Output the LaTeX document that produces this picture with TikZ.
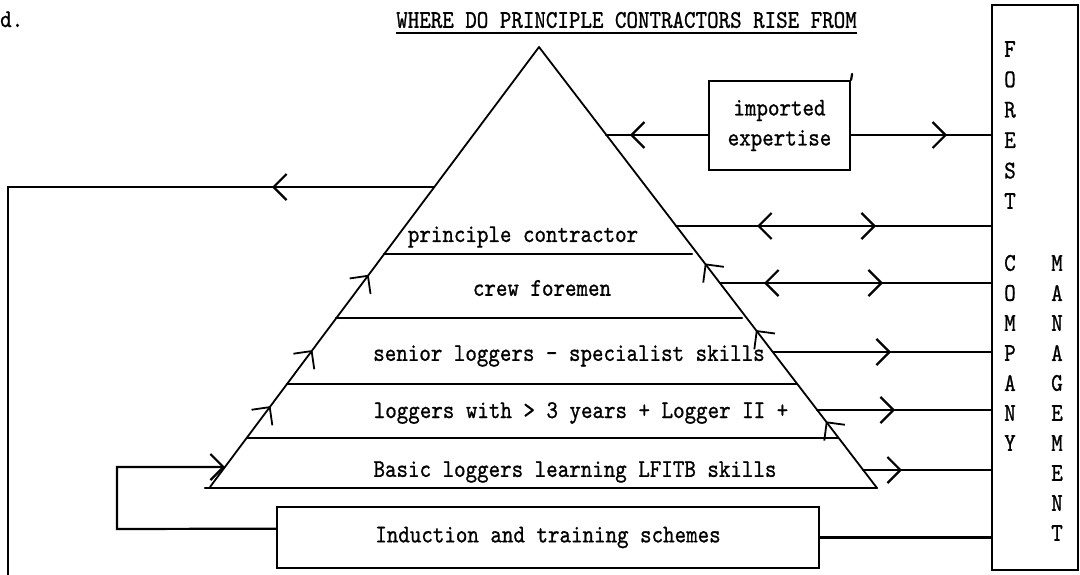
\documentclass[tikz,border=0pt]{standalone}
\usepackage{fontspec}
\newfontfamily\tw{lmmono10-regular.otf}[FakeStretch=0.86,FakeBold=0.9]
\usetikzlibrary{arrows.meta,decorations.markings,calc}

\tikzset{
  every node/.style={font=\tw\fontsize{25.5}{30}\selectfont, inner sep=0pt},
  ln/.style={line width=2.2pt, line cap=round},
  side/.style={line width=1.8pt, line cap=round},
  barb/.tip={Straight Barb[length=13pt,width=26pt]},
  mk/.style={postaction={decorate}, decoration={markings, #1}},
  boxed/.style={draw, line width=2.2pt},
}

\begin{document}
\begin{tikzpicture}[x=1pt,y=-1pt]
\useasboundingbox (0,0) rectangle (1080,574);

% heading
\node[anchor=base west] (dd) at (0,27) {d.};
\node (title) at (626.5,20) {WHERE DO PRINCIPLE CONTRACTORS RISE FROM};
\draw[line width=1.8pt] ($(title.base west)+(0,5)$) -- ($(title.base east)+(0,5)$);

% pyramid corners
\coordinate (apex) at (539,47);
\coordinate (bl) at (210,487);
\coordinate (bl0) at (205,488);
\coordinate (br) at (877,488);

% points on the left side
\coordinate (eL187) at (434,187);
\coordinate (eL254) at (384,254);
\coordinate (eL318) at (336,318);
\coordinate (eL384) at (287,384);
\coordinate (eL438) at (247,438);
\coordinate (eL467) at (225,467);
% points on the right side
\coordinate (eR135) at (606,135);
\coordinate (eR226) at (676,226);
\coordinate (eR254) at (692,254);
\coordinate (eR283) at (720,283);
\coordinate (eR318) at (742,318);
\coordinate (eR352) at (773,352);
\coordinate (eR384) at (797,384);
\coordinate (eR410) at (817,410);
\coordinate (eR438) at (838,438);
\coordinate (eR470) at (863,470);

% pyramid outline with upward arrows on both sides
\draw[side, mk={mark=at position 101pt with {\arrow{barb}},
               mark=at position 171pt with {\arrow{barb}},
               mark=at position 265pt with {\arrow{barb}}}] (bl) -- (apex);
\draw[side, mk={mark=at position 84pt with {\arrow{barb}},
               mark=at position 199pt with {\arrow{barb}},
               mark=at position 283pt with {\arrow{barb}}}] (br) -- (apex);
\draw[ln] (bl0) -- (br);

% tiers
\draw[ln] (eL254) -- (eR254);
\draw[ln] (eL318) -- (eR318);
\draw[ln] (eL384) -- (eR384);
\draw[ln] (eL438) -- (eR438);

\node (r1) at (523,237) {principle contractor};
\node (r2) at (542,288) {crew foremen};
\node (r3) at (569,356) {senior loggers - specialist skills};
\node (r4) at (581,413) {loggers with > 3 years + Logger II +};
\node (r5) at (575,472) {Basic loggers learning LFITB skills};

% boxes
\node[boxed, minimum width=141pt, minimum height=89pt, align=center] (imp) at (779.5,125.5) {imported\\expertise};
\draw[ln] (imp.north east) -- ++(1,-6);
\node[boxed, minimum width=542pt, minimum height=61pt] (ind) at (548,537.5) {Induction and training schemes};
\node[boxed, minimum width=86pt, minimum height=565pt] (fcm) at (1035,287.5) {};

% letters down the management box
\foreach \ch [count=\i] in {F,O,R,E,S,T}
  \node (fo\i) at (1010,{49+30.4*(\i-1)}) {\ch};
\foreach \ch [count=\i] in {C,O,M,P,A,N,Y}
  \node (co\i) at (1010,{263+30*(\i-1)}) {\ch};
\foreach \ch [count=\i] in {M,A,N,A,G,E,M,E,N,T}
  \node (ma\i) at (1057,{263+30*(\i-1)}) {\ch};

% imported expertise links
\draw[ln, mk={mark=at position 78pt with {\arrow{barb}}}] (imp.west |- eR135) -- (eR135);
\draw[ln, mk={mark=at position 96pt with {\arrow{barb}}}] (imp.east |- eR135) -- (eR135 -| fcm.west);

% links between tiers and management
\draw[ln, mk={mark=at position 81pt with {\arrowreversed{barb}},
             mark=at position 200pt with {\arrow{barb}}}] (eR226) -- (eR226 -| fcm.west);
\draw[ln, mk={mark=at position 44pt with {\arrowreversed{barb}},
             mark=at position 163pt with {\arrow{barb}}}] (eR283) -- (eR283 -| fcm.west);
\draw[ln, mk={mark=at position 118pt with {\arrow{barb}}}] (eR352) -- (eR352 -| fcm.west);
\draw[ln, mk={mark=at position 78pt with {\arrow{barb}}}] (eR410) -- (eR410 -| fcm.west);
\draw[ln, mk={mark=at position 39pt with {\arrow{barb}}}] (eR470) -- (eR470 -| fcm.west);
\draw[ln] (ind.east) -- (ind.east -| fcm.west);

% outflow loop on the left
\coordinate (bigc) at (8,187);
\coordinate (bige) at (8,576);
\draw[ln, mk={mark=at position 162pt with {\arrow{barb}}}] (eL187) -- (bigc) -- (bige);

% induction feeding the base
\coordinate (indw) at ($(ind.north west)!0.36!(ind.south west)$);
\coordinate (sl1) at (117,529);
\coordinate (sl2) at (117,467);
\draw[ln, -{barb}] (indw) -- (sl1) -- (sl2) -- (eL467);

\end{tikzpicture}
\end{document}
